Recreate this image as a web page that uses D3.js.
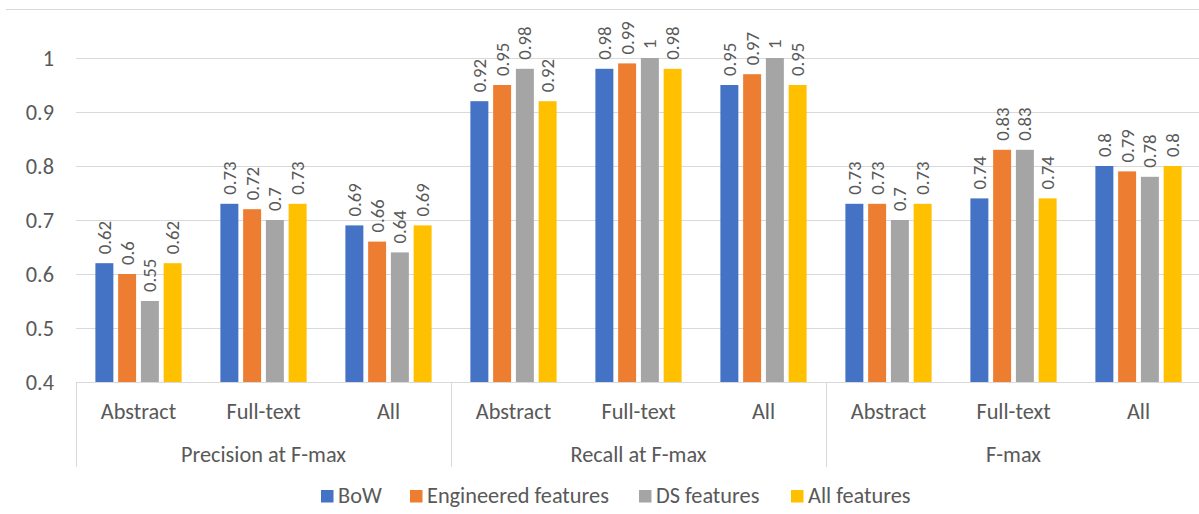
<!DOCTYPE html>
<html><head><meta charset="utf-8">
<script src="https://cdn.jsdelivr.net/npm/d3@7"></script>
<style>
html,body{margin:0;padding:0;background:#fff;}
svg{display:block;font-family:Carlito,Lato,"Open Sans",sans-serif;}
</style></head>
<body>
<svg id="c" width="1199" height="514"></svg>
<script>
const groups = ["Precision at F-max","Recall at F-max","F-max"];
const subcats = ["Abstract","Full-text","All"];
const seriesNames = ["BoW","Engineered features","DS features","All features"];
const colors = ["#4472C4","#ED7D31","#A5A5A5","#FFC000"];
const yTicks = [0.4,0.5,0.6,0.7,0.8,0.9,1];
const tickLabels = ["0.4","0.5","0.6","0.7","0.8","0.9","1"];
// values[group][subcat][series]
const precision = [[0.62,0.6,0.55,0.62],[0.73,0.72,0.7,0.73],[0.69,0.66,0.64,0.69]];
const recall    = [[0.92,0.95,0.98,0.92],[0.98,0.99,1,0.98],[0.95,0.97,1,0.95]];
const fmax      = [[0.73,0.73,0.7,0.73],[0.74,0.83,0.83,0.74],[0.8,0.79,0.78,0.8]];
const values = [precision, recall, fmax];

(function(){
const svg = d3.select("#c");
const pLeft = 76, pRight = 76 + 9*125, pTop = 58, pBottom = 382;
const textColor = "#595959", gridColor = "#D9D9D9";

// fit font sizes to the reference text widths
function widthAt(str, size){
  const t = svg.append("text").attr("font-size",size).text(str);
  const w = t.node().getComputedTextLength(); t.remove(); return w;
}
const axisFont = 100*182/widthAt("Engineered features",100);
const labelFont = 100*33.3/widthAt("0.62",100);

const y = d3.scaleLinear().domain([0.4,1]).range([pBottom, pTop]);

const cats = [];
groups.forEach((g,gi)=>subcats.forEach((s,si)=>cats.push({g,gi,s,si,key:gi+"-"+si,vals:values[gi][si]})));

const x0 = d3.scaleBand().domain(cats.map(d=>d.key)).range([pLeft,pRight]).paddingInner(0.272).paddingOuter(0.136);
const x1 = d3.scaleBand().domain(seriesNames).range([0,x0.bandwidth()]).paddingInner(0.21).paddingOuter(0.105);

// top frame line
svg.append("line").attr("x1",6).attr("x2",1199).attr("y1",9.5).attr("y2",9.5).attr("stroke",gridColor).attr("stroke-width",1);

// gridlines
svg.append("g").selectAll("line").data(yTicks.slice(1)).join("line")
  .attr("x1",pLeft).attr("x2",1199)
  .attr("y1",d=>Math.round(y(d))+0.5).attr("y2",d=>Math.round(y(d))+0.5)
  .attr("stroke",gridColor).attr("stroke-width",1);

// y axis labels
svg.append("g").selectAll("text").data(yTicks).join("text")
  .attr("x",54).attr("y",d=>y(d)).attr("dy","0.35em")
  .attr("text-anchor","end").attr("fill",textColor).attr("font-size",axisFont)
  .text((d,i)=>tickLabels[i]);

// bars
const cg = svg.append("g").selectAll("g").data(cats).join("g")
  .attr("transform",d=>`translate(${x0(d.key)},0)`);
cg.selectAll("rect").data(d=>d.vals.map((v,i)=>({v,i}))).join("rect")
  .attr("x",d=>x1(seriesNames[d.i]))
  .attr("width",x1.bandwidth())
  .attr("y",d=>y(d.v))
  .attr("height",d=>y(0.4)-y(d.v))
  .attr("fill",d=>colors[d.i]);
cg.selectAll("text").data(d=>d.vals.map((v,i)=>({v,i}))).join("text")
  .attr("transform",d=>`translate(${x1(seriesNames[d.i])+x1.bandwidth()/2},${y(d.v)-9}) rotate(-90)`)
  .attr("dy","0.35em").attr("text-anchor","start")
  .attr("fill",textColor).attr("font-size",labelFont)
  .text(d=>String(d.v));

// category axis
svg.append("line").attr("x1",pLeft).attr("x2",1199).attr("y1",pBottom+0.5).attr("y2",pBottom+0.5).attr("stroke",gridColor);
const gw = (pRight-pLeft)/groups.length;
d3.range(groups.length+1).forEach(i=>{
  const xx = Math.round(pLeft + i*gw)+0.5;
  svg.append("line").attr("x1",xx).attr("x2",xx).attr("y1",pBottom).attr("y2",467).attr("stroke",gridColor);
});
svg.append("g").selectAll("text").data(cats).join("text")
  .attr("x",d=>x0(d.key)+x0.bandwidth()/2).attr("y",411).attr("dy","0.35em")
  .attr("text-anchor","middle").attr("fill",textColor).attr("font-size",axisFont)
  .text(d=>d.s);
svg.append("g").selectAll("text").data(groups).join("text")
  .attr("x",(d,i)=>pLeft+gw*(i+0.5)).attr("y",454).attr("dy","0.35em")
  .attr("text-anchor","middle").attr("fill",textColor).attr("font-size",axisFont)
  .text(d=>d);

// legend
const legX = [321,410,639,791];
const lg = svg.append("g").selectAll("g").data(seriesNames).join("g")
  .attr("transform",(d,i)=>`translate(${legX[i]},0)`);
lg.append("rect").attr("x",0).attr("y",490).attr("width",12.5).attr("height",12.5).attr("fill",(d,i)=>colors[i]);
lg.append("text").attr("x",17).attr("y",495.5).attr("dy","0.35em").attr("fill",textColor).attr("font-size",axisFont).text(d=>d);
})();
</script>
</body></html>
